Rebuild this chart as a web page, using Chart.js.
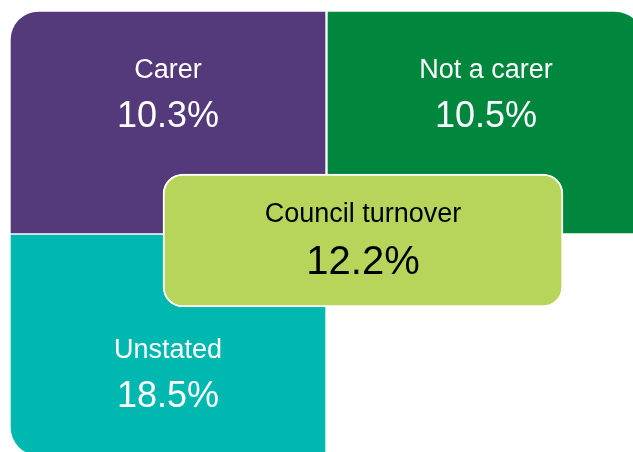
<!DOCTYPE html>
<html>
<head>
<meta charset="utf-8">
<script src="https://cdn.jsdelivr.net/npm/chart.js@4.4.1/dist/chart.umd.min.js"></script>
<style>
  html, body { margin: 0; padding: 0; background: #ffffff; }
  #wrap { width: 633px; height: 452px; }
</style>
</head>
<body>
<div id="wrap"><canvas id="chart" width="633" height="452"></canvas></div>
<script>
// Turnover rate by carer status, with the council-wide rate in the middle
const categories = ['Carer', 'Not a carer', 'Unstated', 'Council turnover'];
const turnoverRates = [10.3, 10.5, 18.5, 12.2];

// Tile placement on a 633 x 452 unit grid (x0, x1, y0, y1), text baselines and styling
const tileBoxes = [
  { x0: 11,  x1: 325, y0: 12,  y1: 233 },
  { x0: 328, x1: 644, y0: 12,  y1: 233 },
  { x0: 11,  x1: 325, y0: 235, y1: 455 },
  { x0: 163, x1: 563, y0: 174, y1: 307 }
];
const textBaselines = [
  { label: 78,  value: 127 },
  { label: 78,  value: 127 },
  { label: 358, value: 407 },
  { label: 222, value: 274 }
];
const tileColors = ['#543a7a', '#00873e', '#00b8b0', '#b6d55a'];
const textColors = ['#ffffff', '#ffffff', '#ffffff', '#000000'];
const cornerRadii = [
  { topLeft: 28, topRight: 0, bottomLeft: 0, bottomRight: 0 },
  { topLeft: 0, topRight: 30, bottomLeft: 0, bottomRight: 0 },
  { topLeft: 0, topRight: 0, bottomLeft: 28, bottomRight: 0 },
  { topLeft: 20, topRight: 20, bottomLeft: 20, bottomRight: 20 }
];
const borderWidths = [0, 0, 0, 2];
const labelFonts = [27, 27, 27, 27];
const valueFonts = [36, 36, 36, 40];

// One floating bar per tile; the centre tile is drawn last so it sits on top
const datasets = categories.map((name, i) => {
  const b = tileBoxes[i];
  return {
    label: name,
    data: [{ x: (b.x0 + b.x1) / 2, y: [b.y0, b.y1] }],
    barThickness: b.x1 - b.x0,
    stack: 'tiles',
    order: categories.length - i,
    backgroundColor: tileColors[i],
    borderColor: '#ffffff',
    borderWidth: borderWidths[i],
    borderSkipped: false,
    borderRadius: cornerRadii[i]
  };
});

const tileText = {
  id: 'tileText',
  afterDatasetsDraw(chart) {
    const ctx = chart.ctx;
    const yScale = chart.scales.y;
    ctx.save();
    ctx.textAlign = 'center';
    ctx.textBaseline = 'alphabetic';
    categories.forEach((name, i) => {
      const bar = chart.getDatasetMeta(i).data[0];
      ctx.fillStyle = textColors[i];
      ctx.font = labelFonts[i] + 'px "Liberation Sans", Arial, sans-serif';
      ctx.fillText(name, bar.x, yScale.getPixelForValue(textBaselines[i].label));
      ctx.font = valueFonts[i] + 'px "Liberation Sans", Arial, sans-serif';
      ctx.fillText(turnoverRates[i].toFixed(1) + '%', bar.x,
        yScale.getPixelForValue(textBaselines[i].value));
    });
    ctx.restore();
  }
};

new Chart(document.getElementById('chart'), {
  type: 'bar',
  data: { datasets },
  options: {
    responsive: false,
    animation: false,
    devicePixelRatio: 1,
    layout: { padding: 0 },
    plugins: { legend: { display: false }, tooltip: { enabled: false } },
    scales: {
      x: { type: 'linear', min: 0, max: 633, offset: false, display: false },
      y: { type: 'linear', min: 0, max: 452, reverse: true, stacked: false, display: false }
    }
  },
  plugins: [tileText]
});
</script>
</body>
</html>
